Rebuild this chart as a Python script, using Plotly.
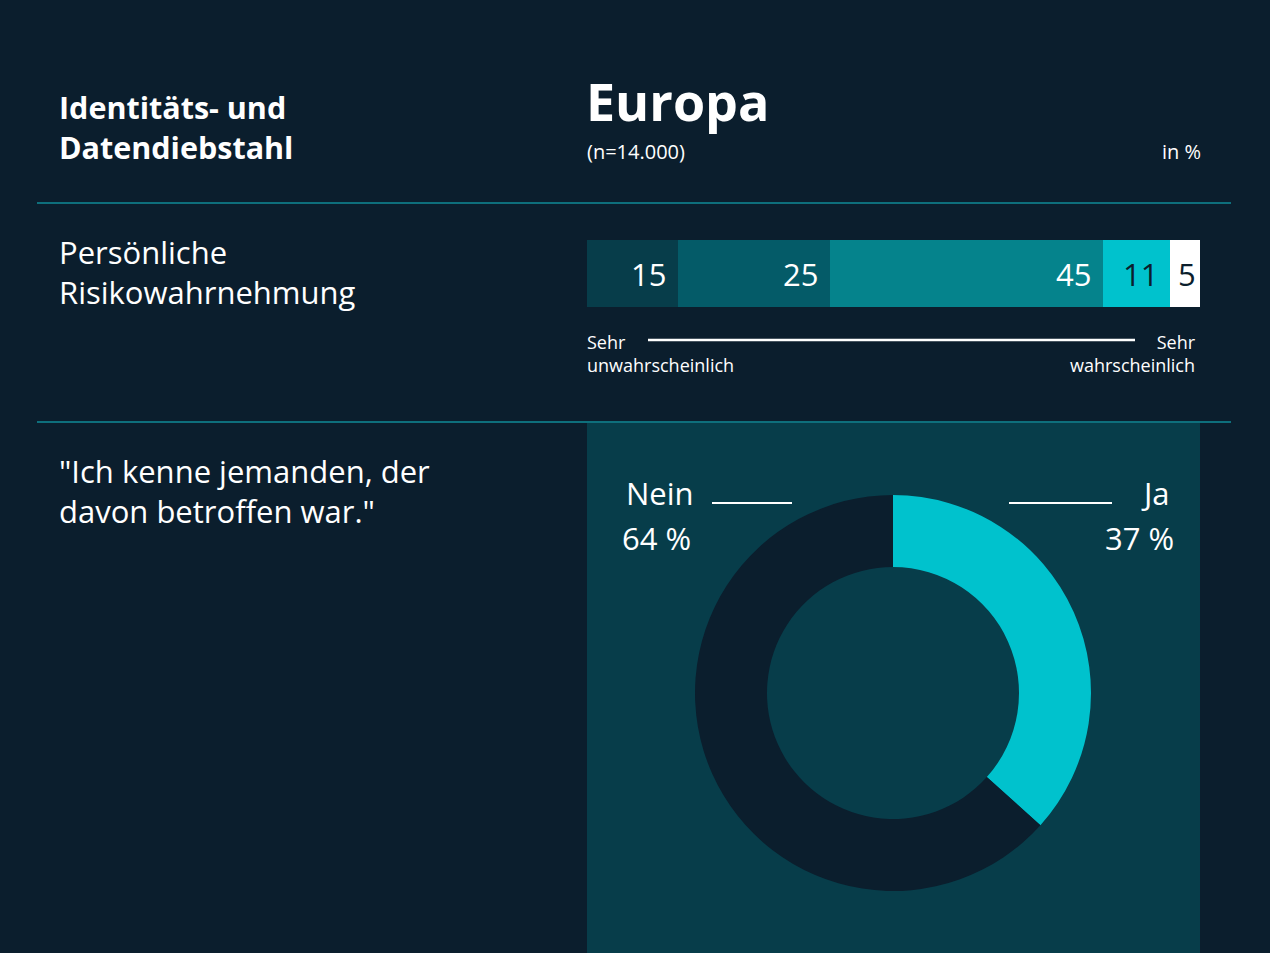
import plotly.graph_objects as go

W, H = 1270, 953
BG = "#0b1e2d"
PANEL = "#073d4a"

# Data
risk_labels = ["Sehr unwahrscheinlich", "Eher unwahrscheinlich", "Eher wahrscheinlich", "Wahrscheinlich", "Sehr wahrscheinlich"]
risk_values = [15, 25, 45, 11, 5]
risk_colors = ["#073d4a", "#045b68", "#05838c", "#00c2cd", "#ffffff"]
risk_text_colors = ["#ffffff", "#ffffff", "#ffffff", "#0b1e2d", "#0b1e2d"]

donut_labels = ["Ja", "Nein"]
donut_values = [37, 64]
donut_colors = ["#00c2cd", BG]

FONT = "Open Sans"


def px(x):
    return x / W


def py(y):
    return 1 - y / H


fig = go.Figure()

# Stacked horizontal bar
for lab, v, c in zip(risk_labels, risk_values, risk_colors):
    fig.add_trace(go.Bar(
        x=[v], y=[0], orientation="h", name=lab,
        marker=dict(color=c, line=dict(width=0)),
        width=1, showlegend=False, hoverinfo="skip",
    ))

total = sum(risk_values)
fig.update_layout(
    barmode="stack",
    xaxis=dict(domain=[px(587), px(1200)], range=[0, total], visible=False, fixedrange=True),
    yaxis=dict(domain=[py(307), py(240)], range=[-0.5, 0.5], visible=False, fixedrange=True),
)

annotations = []
cum = 0
for i, (v, tc) in enumerate(zip(risk_values, risk_text_colors)):
    cum += v
    annotations.append(dict(
        x=cum, y=0, xref="x", yref="y", text=str(v), showarrow=False,
        xanchor="right", yanchor="middle", xshift=-10 if i < len(risk_values) - 1 else -2,
        font=dict(family=FONT, size=31, color=tc),
    ))

# Donut
fig.add_trace(go.Pie(
    labels=donut_labels, values=donut_values, hole=126 / 198,
    marker=dict(colors=donut_colors, line=dict(width=0)),
    sort=False, direction="clockwise", rotation=0,
    textinfo="none", hoverinfo="skip", showlegend=False,
    domain=dict(x=[px(695), px(1091)], y=[py(891), py(495)]),
))


def txt(x, y, text, size, xanchor="left", weight="normal", color="#ffffff", yanchor="middle"):
    annotations.append(dict(
        x=px(x), y=py(y), xref="paper", yref="paper", text=text, showarrow=False,
        xanchor=xanchor, yanchor=yanchor, align=xanchor if xanchor != "middle" else "center",
        font=dict(family=FONT, size=size, color=color, weight=weight),
    ))


txt(57, 127, "Identitäts- und<br>Datendiebstahl", 30.5, weight="bold")
txt(584, 101, "Europa", 52, weight="bold")
txt(585, 151, "(n=14.000)", 20)
txt(1203, 151, "in %", 20, xanchor="right")
txt(57, 272, "Persönliche<br>Risikowahrnehmung", 31)
txt(585, 353, "Sehr<br>unwahrscheinlich", 18)
txt(1198, 353, "Sehr<br>wahrscheinlich", 18, xanchor="right")
txt(57, 491, "\"Ich kenne jemanden, der<br>davon betroffen war.\"", 31)
txt(624, 493, "Nein", 31)
txt(620, 538, "64 %", 31)
txt(1172, 493, "Ja", 31, xanchor="right")
txt(1176, 538, "37 %", 31, xanchor="right")

shapes = [
    dict(type="rect", xref="paper", yref="paper", x0=px(587), x1=px(1200), y0=0, y1=py(423),
         fillcolor=PANEL, line=dict(width=0), layer="below"),
    dict(type="line", xref="paper", yref="paper", x0=px(37), x1=px(1231), y0=py(203), y1=py(203),
         line=dict(color="#0e6f7c", width=2)),
    dict(type="line", xref="paper", yref="paper", x0=px(37), x1=px(1231), y0=py(422), y1=py(422),
         line=dict(color="#0e6f7c", width=2)),
    dict(type="line", xref="paper", yref="paper", x0=px(648), x1=px(1135), y0=py(340), y1=py(340),
         line=dict(color="#ffffff", width=2.5)),
    dict(type="line", xref="paper", yref="paper", x0=px(712), x1=px(792), y0=py(503), y1=py(503),
         line=dict(color="#ffffff", width=2)),
    dict(type="line", xref="paper", yref="paper", x0=px(1009), x1=px(1112), y0=py(503), y1=py(503),
         line=dict(color="#ffffff", width=2)),
]

fig.update_layout(
    width=W, height=H,
    margin=dict(l=0, r=0, t=0, b=0),
    paper_bgcolor=BG, plot_bgcolor="rgba(0,0,0,0)",
    annotations=annotations, shapes=shapes,
    font=dict(family=FONT, color="#ffffff"),
    showlegend=False,
)

fig.write_html("out.html", config={"displayModeBar": False})
